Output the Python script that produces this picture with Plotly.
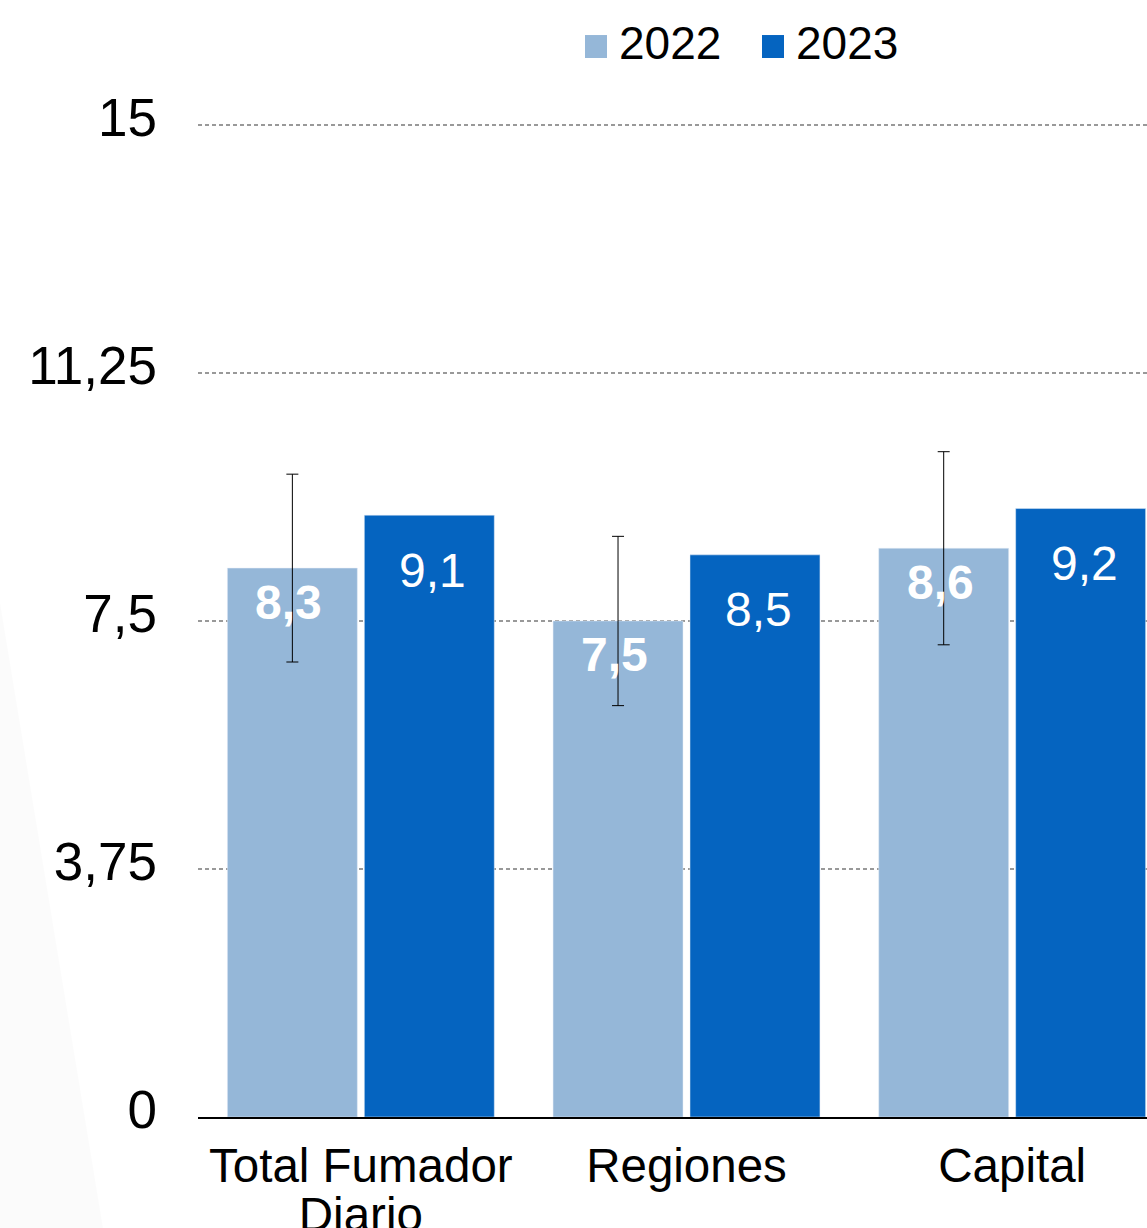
import plotly.graph_objects as go

categories = ["Total Fumador<br>Diario", "Regiones", "Capital"]
years = ["2022", "2023"]
values_2022 = [8.3, 7.5, 8.6]
values_2023 = [9.1, 8.5, 9.2]
err_2022 = [1.42, 1.28, 1.46]
y_ticks = [0, 3.75, 7.5, 11.25, 15]

c2022 = "#95b7d8"
c2023 = "#0564c0"
colors = [c2022, c2023]
font_family = "Liberation Sans, Arial, sans-serif"

def fmt(v):
    return f"{v:.1f}".replace(".", ",")

# category labels: larger glyphs with tighter line spacing
cat_text = ["<br>".join(f"<span style='font-size:47.5px'>{part}</span>"
                        for part in c.split("<br>")) for c in categories]

fig = go.Figure()
fig.add_trace(go.Bar(
    name=years[0], x=categories, y=values_2022, marker_color=c2022,
    error_y=dict(type="data", array=err_2022, visible=True, color="black",
                 thickness=1, width=6),
    showlegend=False,
))
fig.add_trace(go.Bar(
    name=years[1], x=categories, y=values_2023, marker_color=c2023,
    showlegend=False,
))

# data labels inside bars
for cat, v in zip(categories, values_2022):
    fig.add_annotation(x=cat, y=v, xref="x", yref="y", text=f"<b>{fmt(v)}</b>",
                       showarrow=False, xshift=-72, yshift=-34, yanchor="middle",
                       font=dict(color="white", size=48, family=font_family))
for cat, v in zip(categories, values_2023):
    fig.add_annotation(x=cat, y=v, xref="x", yref="y", text=fmt(v),
                       showarrow=False, xshift=72, yshift=-55, yanchor="middle",
                       font=dict(color="white", size=48, family=font_family))

# legend (drawn with larger square swatches, as in the reference)
legend_x = [0.4078, 0.5943]
for yr, col, lx in zip(years, colors, legend_x):
    fig.add_shape(type="rect", xref="paper", yref="paper",
                  x0=lx, x1=lx + 0.0232, y0=1.0654, y1=1.0885,
                  fillcolor=col, line=dict(width=0))
    fig.add_annotation(x=lx + 0.0337, y=1.0805, xref="paper", yref="paper",
                       text=yr, showarrow=False, xanchor="left", yanchor="middle",
                       font=dict(size=46, color="black", family=font_family))

# faint decorative shadow at the lower left
fig.add_shape(type="path", xref="paper", yref="paper", layer="below",
              path="M -0.209,0.52 L -0.1,-0.112 L -0.209,-0.112 Z",
              fillcolor="rgba(0,0,0,0.015)", line=dict(width=0))

fig.update_layout(
    width=1147, height=1228,
    margin=dict(l=198, r=0, t=123, b=111, autoexpand=False),
    paper_bgcolor="white", plot_bgcolor="white",
    barmode="group", bargap=0.159, bargroupgap=0.051,
    separators=",.",
    font=dict(family=font_family, color="black", size=46),
    showlegend=False,
    xaxis=dict(range=[-0.5, 2.414], showline=True, linecolor="black", linewidth=2,
               showgrid=False, ticks="", tickfont=dict(size=38),
               tickmode="array", tickvals=categories, ticktext=cat_text,
               ticklabelstandoff=17, fixedrange=True, automargin=False),
    yaxis=dict(range=[0, 15.03], tickvals=y_ticks, showgrid=True, gridcolor="#999999",
               griddash="4px,3px", gridwidth=2, zeroline=False, showline=False,
               ticks="", tickfont=dict(size=53), ticklabelstandoff=40,
               ticklabelshift=-8, automargin=False),
)

post = (
    "document.documentElement.style.margin='0';"
    "document.body.style.margin='0';"
    "document.documentElement.style.overflow='hidden';"
    "document.body.style.overflow='hidden';"
    "var gd=document.getElementById('{plot_id}');"
    "gd.style.overflow='hidden';"
    "if(gd.parentElement){gd.parentElement.style.overflow='hidden';"
    "gd.parentElement.style.height='1228px';}"
)
fig.write_html("out.html", config={"displayModeBar": False}, post_script=post)
